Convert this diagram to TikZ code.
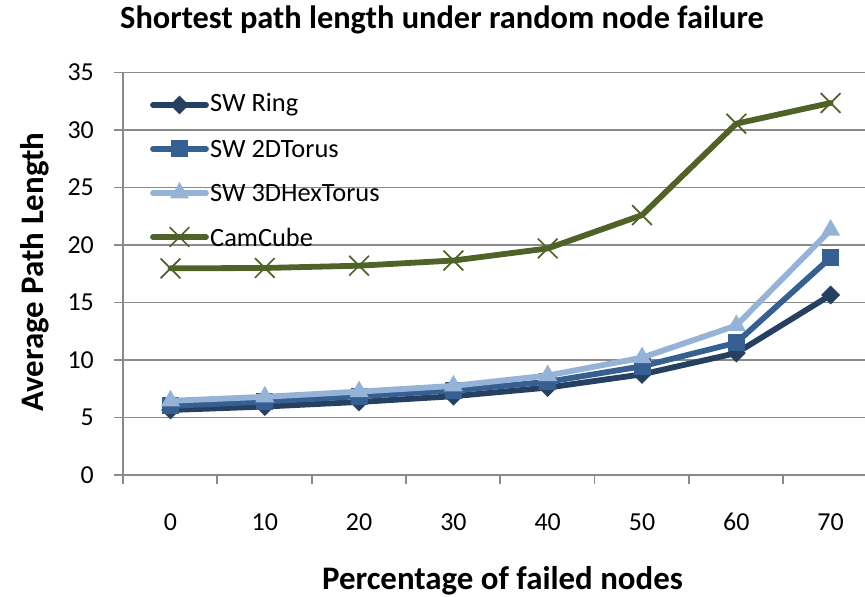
\documentclass[tikz,border=0pt]{standalone}
\usepackage{fontspec}
\setmainfont{Carlito}
\usetikzlibrary{shapes.geometric,shapes.misc}
\definecolor{ringc}{HTML}{254061}
\definecolor{torusc}{HTML}{376092}
\definecolor{hexc}{HTML}{95B3D7}
\definecolor{camc}{HTML}{4F6228}
\definecolor{gridc}{HTML}{8A8A8A}
\begin{document}
\begin{tikzpicture}[x=1bp,y=1bp,
  series/.style={line width=5.8bp, line join=round, line cap=round},
  dmark/.style={diamond, fill=ringc, inner sep=0pt, minimum width=19bp, minimum height=19bp},
  smark/.style={rectangle, fill=torusc, inner sep=0pt, minimum size=17bp},
  tmark/.style={regular polygon, regular polygon sides=3, fill=hexc, inner sep=0pt, minimum size=22bp},
  xmark/.style={cross out, draw=camc, line width=1.7bp, inner sep=0pt, minimum size=18bp},
  gridline/.style={draw=gridc, line width=1.8bp},
  ticklab/.style={font=\fontsize{26}{30}\selectfont, inner sep=0pt},
  legtext/.style={font=\fontsize{26.5}{30}\selectfont, anchor=west, inner sep=0pt},
  axtitle/.style={font=\bfseries\fontsize{33}{38}\selectfont, inner sep=0pt, anchor=base}
]
\useasboundingbox (0,0) rectangle (865,597);
% gridlines and y ticks
\foreach \v in {0,5,...,35} {
  \coordinate (gl\v) at (114,{122+11.5*\v});
  \coordinate (gr\v) at (865,{122+11.5*\v});
  \draw[gridline] (gl\v) -- (gr\v);
  \node[ticklab, anchor=east] (yl\v) at (94,{122+11.5*\v}) {\v};
}
% y axis
\coordinate (ybot) at (123,122);
\coordinate (ytop) at (123,524.5);
\draw[gridline] (ybot) -- (ytop);
% x ticks
\foreach \k in {0,...,7} {
  \coordinate (xt\k) at ({123+94.3*\k},122);
  \coordinate (xb\k) at ({123+94.3*\k},113);
  \draw[gridline] (xt\k) -- (xb\k);
}
\foreach \k/\lab in {0/0,1/10,2/20,3/30,4/40,5/50,6/60,7/70} {
  \node[ticklab] (xl\k) at ({170.5+94.3*\k},75) {\lab};
}
% titles
\node[font=\bfseries\fontsize{32.5}{36}\selectfont, inner sep=0pt, anchor=base] (title) at (442,568) {Shortest path length under random node failure};
\node[axtitle, rotate=90] (ytitle) at (43,325) {Average Path Length};
\node[axtitle] (xtitle) at (502.5,7) {Percentage of failed nodes};
% data
\def\ringdata{5.65,5.95,6.35,6.85,7.6,8.75,10.6,15.65}
\def\torusdata{6.0,6.4,6.85,7.35,8.1,9.45,11.5,18.9}
\def\hexdata{6.45,6.8,7.25,7.75,8.65,10.2,13.0,21.3}
\def\camdata{17.97,18.0,18.2,18.65,19.7,22.6,30.55,32.35}
\foreach \v [count=\i from 0] in \ringdata { \coordinate (r\i) at ({170.5+94.3*\i},{122+11.5*\v}); }
\foreach \v [count=\i from 0] in \torusdata { \coordinate (t\i) at ({170.5+94.3*\i},{122+11.5*\v}); }
\foreach \v [count=\i from 0] in \hexdata { \coordinate (h\i) at ({170.5+94.3*\i},{122+11.5*\v}); }
\foreach \v [count=\i from 0] in \camdata { \coordinate (c\i) at ({170.5+94.3*\i},{122+11.5*\v}); }
% SW Ring
\draw[series, ringc] (r0) -- (r1) -- (r2) -- (r3) -- (r4) -- (r5) -- (r6) -- (r7);
\foreach \i in {0,...,7} { \node[dmark] (rm\i) at (r\i) {}; }
% SW 2DTorus
\draw[series, torusc] (t0) -- (t1) -- (t2) -- (t3) -- (t4) -- (t5) -- (t6) -- (t7);
\foreach \i in {0,...,7} { \node[smark] (tm\i) at (t\i) {}; }
% SW 3DHexTorus
\draw[series, hexc] (h0) -- (h1) -- (h2) -- (h3) -- (h4) -- (h5) -- (h6) -- (h7);
\foreach \i in {0,...,7} { \node[tmark] (hm\i) at (h\i) {}; }
% CamCube
\draw[series, camc] (c0) -- (c1) -- (c2) -- (c3) -- (c4) -- (c5) -- (c6) -- (c7);
\foreach \i in {0,...,7} { \node[xmark] (cm\i) at (c\i) {}; }
% legend
\foreach \name/\col/\mk/\yy [count=\j] in {SW Ring/ringc/dmark/492, SW 2DTorus/torusc/smark/448, SW 3DHexTorus/hexc/tmark/404, CamCube/camc/xmark/360} {
  \coordinate (la\j) at (153,\yy);
  \coordinate (lb\j) at (206,\yy);
  \draw[series, \col] (la\j) -- (lb\j);
  \node[\mk] (lm\j) at (179.5,\yy) {};
  \node[legtext] (lt\j) at (210,\yy) {\name};
}
\end{tikzpicture}
\end{document}
